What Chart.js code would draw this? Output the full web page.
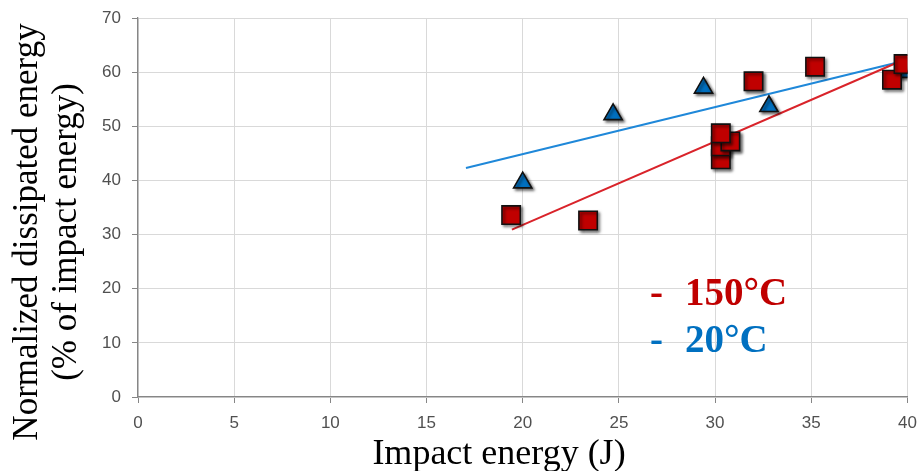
<!DOCTYPE html>
<html>
<head>
<meta charset="utf-8">
<script src="https://cdn.jsdelivr.net/npm/chart.js@4.4.0/dist/chart.umd.min.js"></script>
<style>
  html, body { margin: 0; padding: 0; background: #fff; }
  #wrap { width: 922px; height: 471px; }
</style>
</head>
<body>
<div id="wrap"><canvas id="chart" width="922" height="471"></canvas></div>
<script>
// values
const hotX = [19.4, 23.4, 30.3, 30.3, 30.8, 30.3, 32.0, 35.2, 39.2, 39.8];
const hotY = [33.6, 32.6, 43.9, 46.3, 47.2, 48.7, 58.3, 61.0, 58.6, 61.5];
const coldX = [20.0, 24.7, 29.4, 32.8, 39.7];
const coldY = [39.6, 52.2, 57.1, 53.7, 60.0];

// fitted trend lines (end points)
const hotFitX = [19.44, 39.75];
const hotFitY = [30.9, 62.2];
const coldFitX = [17.05, 39.75];
const coldFitY = [42.3, 62.0];

const seriesLabels = ['150°C', '20°C'];
const xTitle = 'Impact energy (J)';
const yTitle = ['Normalized dissipated energy', '(% of impact energy)'];

const RED = '#c00000';
const BLUE = '#0070c0';

const toPoints = (xs, ys) => xs.map((x, i) => ({ x: x, y: ys[i] }));

// drop shadow under the markers
const markerShadow = {
    id: 'markerShadow',
    beforeDatasetDraw(chart, args) {
        if (!args.meta._dataset.shadow) return;
        const ctx = chart.ctx;
        ctx.save();
        ctx.shadowColor = 'rgba(0,0,0,0.55)';
        ctx.shadowBlur = 3;
        ctx.shadowOffsetX = 2;
        ctx.shadowOffsetY = 2;
    },
    afterDatasetDraw(chart, args) {
        if (args.meta._dataset.shadow) chart.ctx.restore();
    }
};

// axis titles and the in-plot legend
const labelsPlugin = {
    id: 'labelsPlugin',
    afterDraw(chart) {
        const ctx = chart.ctx;
        ctx.save();
        ctx.fillStyle = '#000';
        ctx.font = '36px "Liberation Serif", "Times New Roman", serif';
        ctx.textAlign = 'center';
        ctx.textBaseline = 'alphabetic';
        ctx.fillText(xTitle, 499, 464);

        ctx.font = '35px "Liberation Serif", "Times New Roman", serif';
        ctx.translate(0, 232);
        ctx.rotate(-Math.PI / 2);
        ctx.fillText(yTitle[0], 0, 37);
        ctx.fillText(yTitle[1], 0, 76);
        ctx.restore();

        ctx.save();
        ctx.font = 'bold 39px "Liberation Serif", "Times New Roman", serif';
        ctx.textAlign = 'left';
        ctx.fillStyle = RED;
        ctx.fillText('-', 650, 305);
        ctx.fillText(seriesLabels[0], 685, 305);
        ctx.fillStyle = BLUE;
        ctx.fillText('-', 650, 352);
        ctx.fillText(seriesLabels[1], 685, 352);
        ctx.restore();
    }
};

const tickFont = { family: '"Liberation Sans", Arial, sans-serif', size: 17 };

new Chart(document.getElementById('chart'), {
    type: 'scatter',
    data: {
        datasets: [
            {
                label: seriesLabels[0],
                data: toPoints(hotX, hotY),
                pointStyle: 'rect',
                pointRadius: 13,
                backgroundColor: RED,
                borderColor: '#111',
                borderWidth: 1.6,
                shadow: true,
                order: 0
            },
            {
                label: seriesLabels[1],
                data: toPoints(coldX, coldY),
                pointStyle: 'triangle',
                pointRadius: 10.5,
                backgroundColor: BLUE,
                borderColor: '#111',
                borderWidth: 1.6,
                shadow: true,
                order: 1
            },
            {
                label: 'fit 150',
                data: toPoints(hotFitX, hotFitY),
                showLine: true,
                pointRadius: 0,
                borderColor: '#d9232a',
                borderWidth: 2,
                order: 2
            },
            {
                label: 'fit 20',
                data: toPoints(coldFitX, coldFitY),
                showLine: true,
                pointRadius: 0,
                borderColor: '#1f88d9',
                borderWidth: 2,
                order: 2
            }
        ]
    },
    options: {
        responsive: false,
        animation: false,
        devicePixelRatio: 1,
        layout: { padding: { left: 0, right: 13, top: 18, bottom: 0 } },
        plugins: {
            legend: { display: false },
            tooltip: { enabled: false }
        },
        scales: {
            x: {
                type: 'linear',
                min: 0,
                max: 40,
                afterFit: s => { s.height = 74; s.paddingLeft = 0; s.paddingRight = 0; },
                ticks: { stepSize: 5, color: '#505050', font: tickFont, padding: 10 },
                grid: { color: '#d9d9d9', tickColor: '#868686', tickLength: 6 },
                border: { color: '#868686', width: 1.3 }
            },
            y: {
                min: 0,
                max: 70,
                afterFit: s => { s.width = 138; s.paddingTop = 0; s.paddingBottom = 0; },
                ticks: { stepSize: 10, color: '#505050', font: tickFont, padding: 11 },
                grid: { color: '#d9d9d9', tickColor: '#868686', tickLength: 6 },
                border: { color: '#868686', width: 1.3 }
            }
        }
    },
    plugins: [markerShadow, labelsPlugin]
});
</script>
</body>
</html>
